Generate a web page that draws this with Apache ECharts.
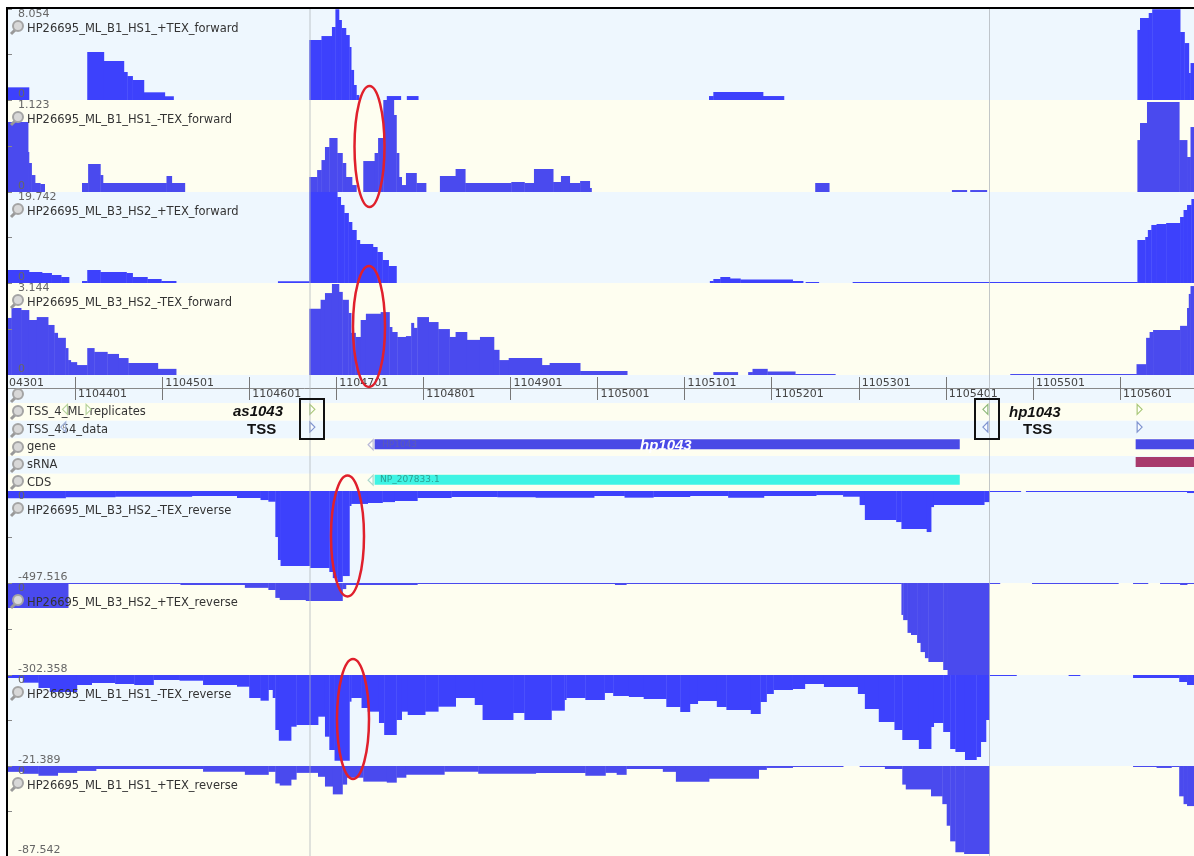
<!DOCTYPE html>
<html>
<head>
<meta charset="utf-8">
<title>hp1043 coverage tracks</title>
<script src="https://cdn.jsdelivr.net/npm/echarts@6/dist/echarts.min.js"></script>
<style>
html,body{margin:0;padding:0;background:#fff;}
#main{width:1194px;height:856px;filter:blur(0.5px);}
</style>
</head>
<body>
<div id="main"></div>
<script>
var xStart = 1104324, xEnd = 1105686;

// coverage tracks, each point is [position, value held until the next point]
var b1PlusFwd = [[1104324,1.12],[1104348,0],[1104415,4.25],[1104434,3.45],[1104457,2.48],[1104461,2.12],[1104467,1.77],[1104480,.68],[1104504,.33],[1104514,0],[1104670,5.31],[1104684,5.66],[1104696,6.46],[1104700,8.03],[1104704,7.08],[1104707,6.37],[1104712,5.75],[1104716,4.69],[1104718,2.66],[1104721,1.33],[1104724,.44],[1104727,0],[1104759,.35],[1104775,0],[1104782,.35],[1104795,0],[1105129,.35],[1105134,.71],[1105191,.35],[1105215,0],[1105621,6.2],[1105624,7.26],[1105634,7.7],[1105638,8.03],[1105670,6.02],[1105675,5.04],[1105680,2.39],[1105682,3.27],[1105686,3.27]];
var b1MinusFwd = [[1104324,.854],[1104347,.488],[1104348,.354],[1104351,.207],[1104355,.11],[1104361,.098],[1104366,0],[1104409,.11],[1104416,.342],[1104430,.207],[1104433,.11],[1104506,.195],[1104512,.11],[1104527,0],[1104670,.183],[1104679,.268],[1104684,.39],[1104688,.549],[1104693,.659],[1104702,.476],[1104708,.354],[1104712,.183],[1104719,.085],[1104724,0],[1104732,.378],[1104745,.476],[1104749,.659],[1104755,1.123],[1104767,.94],[1104770,.476],[1104773,.183],[1104776,.085],[1104781,.232],[1104793,.11],[1104804,0],[1104820,.195],[1104838,.281],[1104849,.11],[1104902,.122],[1104917,.11],[1104928,.281],[1104950,.122],[1104959,.195],[1104969,.11],[1104981,.134],[1104992,.049],[1104994,0],[1105251,.11],[1105267,0],[1105408,.024],[1105425,0],[1105429,.024],[1105448,0],[1105621,.634],[1105624,.842],[1105632,1.098],[1105669,.634],[1105678,.427],[1105682,.793],[1105686,.793]];
var b3PlusFwd = [[1104324,2.82],[1104348,2.39],[1104363,2.17],[1104374,1.74],[1104385,1.3],[1104394,0],[1104409,.43],[1104415,2.82],[1104430,2.39],[1104460,2.17],[1104467,1.3],[1104484,.87],[1104500,.43],[1104517,0],[1104634,.37],[1104670,19.74],[1104702,18.66],[1104706,16.93],[1104710,15.19],[1104715,13.24],[1104719,11.5],[1104724,9.33],[1104728,8.46],[1104743,7.81],[1104748,6.73],[1104754,4.99],[1104761,3.69],[1104770,0],[1105130,.43],[1105134,.87],[1105142,1.3],[1105153,.98],[1105165,.76],[1105225,.43],[1105237,0],[1105240,.22],[1105255,0],[1105294,.22],[1105621,9.33],[1105630,9.98],[1105633,11.5],[1105637,12.59],[1105643,12.8],[1105654,13.02],[1105670,14.32],[1105674,15.84],[1105678,16.93],[1105683,18.23],[1105686,18.23]];
var b3MinusFwd = [[1104324,1.95],[1104328,2.29],[1104339,2.22],[1104348,1.88],[1104357,1.98],[1104370,1.71],[1104377,1.44],[1104381,1.27],[1104390,.92],[1104393,.51],[1104396,.44],[1104403,.34],[1104415,.92],[1104423,.79],[1104438,.72],[1104451,.58],[1104462,.41],[1104496,.21],[1104517,0],[1104670,2.26],[1104683,2.57],[1104688,2.8],[1104696,3.11],[1104704,2.84],[1104708,2.57],[1104715,2.12],[1104718,1.44],[1104723,1.3],[1104729,1.88],[1104735,2.09],[1104752,2.15],[1104762,1.64],[1104765,1.47],[1104771,1.3],[1104781,1.33],[1104787,1.78],[1104790,1.61],[1104794,1.98],[1104807,1.81],[1104818,1.57],[1104831,1.3],[1104838,1.47],[1104851,1.2],[1104866,1.3],[1104882,.86],[1104888,.51],[1104899,.58],[1104937,.34],[1104946,.41],[1104981,.14],[1105035,0],[1105134,.1],[1105162,0],[1105174,.1],[1105179,.21],[1105196,.12],[1105228,.034],[1105274,0],[1105475,.034],[1105620,.37],[1105631,1.27],[1105635,1.47],[1105639,1.54],[1105670,1.68],[1105678,2.29],[1105680,2.77],[1105682,3.04],[1105686,3.04]];
var b3MinusRev = [[1104324,-39.5],[1104390,-34],[1104447,-31],[1104535,-27],[1104587,-38],[1104614,-49],[1104623,-58],[1104631,-249],[1104634,-373],[1104637,-406],[1104671,-417],[1104693,-438],[1104697,-471],[1104702,-492],[1104708,-460],[1104716,-81],[1104718,-70],[1104737,-65],[1104754,-60],[1104768,-54],[1104794,-38],[1104833,-32],[1104886,-34],[1104930,-36],[1104997,-27],[1105032,-36],[1105065,-32],[1105107,-27],[1105151,-36],[1105192,-27],[1105252,-22],[1105283,-31],[1105302,-76],[1105308,-157],[1105344,-168],[1105350,-206],[1105379,-222],[1105384,-87],[1105387,-76],[1105445,-60],[1105451,-5],[1105487,0],[1105493,-5],[1105678,-11],[1105686,-11]];
var b3PlusRev = [[1104324,-82],[1104393,-3.3],[1104522,-6.6],[1104596,-16],[1104623,-23],[1104631,-49],[1104636,-56],[1104666,-59],[1104708,-20],[1104712,-6.6],[1104794,-3.3],[1105021,-6.6],[1105034,-3.3],[1105350,-105],[1105352,-122],[1105357,-164],[1105361,-171],[1105368,-197],[1105372,-227],[1105377,-247],[1105381,-260],[1105398,-286],[1105403,-302],[1105451,-3.3],[1105463,0],[1105500,-3.3],[1105599,0],[1105616,-3.3],[1105633,0],[1105647,-3.3],[1105670,-6.6],[1105678,-3.3],[1105686,-3.3]];
var b1MinusRev = [[1104324,-.7],[1104341,-1.81],[1104359,-3.06],[1104372,-4],[1104403,-2.35],[1104420,-1.88],[1104447,-2.12],[1104469,-2.35],[1104491,-1.18],[1104521,-1.34],[1104548,-2.35],[1104587,-2.75],[1104601,-5.41],[1104614,-6.04],[1104623,-3.53],[1104628,-5.41],[1104631,-12.93],[1104635,-15.44],[1104649,-12.15],[1104655,-11.75],[1104680,-9.8],[1104688,-14.5],[1104693,-17.63],[1104699,-20.14],[1104716,-6.27],[1104718,-5.41],[1104730,-7.76],[1104737,-8.62],[1104750,-11.28],[1104756,-14.1],[1104770,-10.58],[1104776,-8.62],[1104783,-9.4],[1104803,-8.62],[1104818,-7.45],[1104838,-5.41],[1104860,-7.05],[1104869,-10.58],[1104904,-8.93],[1104917,-10.58],[1104948,-8.39],[1104963,-5.88],[1104965,-5.41],[1104987,-5.88],[1105009,-4.23],[1105019,-4.94],[1105037,-5.17],[1105054,-5.64],[1105080,-7.52],[1105096,-8.7],[1105107,-6.82],[1105116,-6.11],[1105138,-7.52],[1105149,-8.23],[1105177,-9.17],[1105188,-6.35],[1105195,-4.47],[1105203,-3.53],[1105225,-3.29],[1105239,-2.12],[1105261,-2.82],[1105300,-4.47],[1105308,-7.99],[1105324,-11.05],[1105342,-12.93],[1105351,-15.28],[1105370,-17.39],[1105384,-12.22],[1105387,-11.28],[1105398,-13.4],[1105406,-17.39],[1105412,-18.1],[1105423,-19.98],[1105436,-19.27],[1105441,-15.75],[1105447,-10.58],[1105451,-.24],[1105482,0],[1105542,-.24],[1105555,0],[1105616,-.7],[1105669,-1.65],[1105678,-2.35],[1105686,-2.35]];
var b1PlusRev = [[1104324,-5.7],[1104341,-7.6],[1104359,-9.5],[1104381,-6.7],[1104403,-4.8],[1104425,-2.9],[1104548,-5.7],[1104596,-8.6],[1104623,-5.7],[1104631,-17],[1104636,-19],[1104649,-13.3],[1104655,-6.7],[1104680,-10.5],[1104688,-20],[1104697,-27.6],[1104708,-18.1],[1104713,-11.4],[1104732,-15.2],[1104759,-16.2],[1104770,-11.4],[1104781,-8.6],[1104825,-5.7],[1104864,-7.6],[1104930,-6.7],[1104987,-9.5],[1105010,-6.7],[1105023,-8.6],[1105034,-2.9],[1105076,-5.7],[1105091,-15.2],[1105129,-12.4],[1105186,-3.8],[1105195,-1.9],[1105225,-1],[1105283,0],[1105302,-1],[1105331,-2.9],[1105351,-18.1],[1105355,-22.8],[1105384,-29.5],[1105397,-37.1],[1105402,-58.1],[1105406,-73.3],[1105412,-83.8],[1105422,-85.7],[1105451,0],[1105616,-1],[1105643,-1.9],[1105660,-1],[1105669,-29.5],[1105674,-37.1],[1105678,-39],[1105686,-39]];

// annotation rows
var rowNames = ['TSS_4_ML_replicates','TSS_454_data','gene','sRNA','CDS'];
var rowColors = ['#fefef0','#eef7fe'];
var featureColors = {gene:'#4a4ae6', sRNA:'#a83a6c', CDS:'#3ff4e4'};
// start, end, row, type
var features = [
  [1104745,1105417,2,'gene'],
  [1105619,1105686,2,'gene'],
  [1105619,1105686,3,'sRNA'],
  [1104745,1105417,4,'CDS']
];
// position, row, direction (1 right, -1 left), colour
var tssMarks = [
  [1104390,0,-1,'#b5d29a'],
  [1104416,0,1,'#b5d29a'],
  [1104673,0,1,'#a9c878'],
  [1105447,0,-1,'#8db87a'],
  [1105623,0,1,'#a9c878'],
  [1104388,1,-1,'#9fb0d8'],
  [1104673,1,1,'#7f93cf'],
  [1105447,1,-1,'#7f93cf'],
  [1105623,1,1,'#7f93cf'],
  [1104741,2,-1,'#b9b9d8'],
  [1104741,4,-1,'#a8d8cc']
];

// ruler
var rulerUpper = [1104501,1104701,1104901,1105101,1105301,1105501];
var rulerLower = [1104401,1104601,1104801,1105001,1105201,1105401,1105601];
var rulerTicks = rulerLower.concat(rulerUpper);

var tracks = [
  {name:'HP26695_ML_B1_HS1_+TEX_forward', data:b1PlusFwd, min:0, max:8.054, top:9, height:91, bg:'#eef7fe', color:'#3d41fc'},
  {name:'HP26695_ML_B1_HS1_-TEX_forward', data:b1MinusFwd, min:0, max:1.123, top:100, height:92, bg:'#fefef0', color:'#4a4aee'},
  {name:'HP26695_ML_B3_HS2_+TEX_forward', data:b3PlusFwd, min:0, max:19.742, top:192, height:91, bg:'#eef7fe', color:'#3d41fc'},
  {name:'HP26695_ML_B3_HS2_-TEX_forward', data:b3MinusFwd, min:0, max:3.144, top:283, height:92, bg:'#fefef0', color:'#4a4aee'},
  {name:'HP26695_ML_B3_HS2_-TEX_reverse', data:b3MinusRev, min:-497.516, max:0, top:491, height:92, bg:'#eef7fe', color:'#3d41fc'},
  {name:'HP26695_ML_B3_HS2_+TEX_reverse', data:b3PlusRev, min:-302.358, max:0, top:583, height:92, bg:'#fefef0', color:'#4a4aee'},
  {name:'HP26695_ML_B1_HS1_-TEX_reverse', data:b1MinusRev, min:-21.389, max:0, top:675, height:91, bg:'#eef7fe', color:'#3d41fc'},
  {name:'HP26695_ML_B1_HS1_+TEX_reverse', data:b1PlusRev, min:-87.542, max:0, top:766, height:92, bg:'#fefef0', color:'#4a4aee'}
];

var labelFont = 'DejaVu Sans';
var grids = [], xAxes = [], yAxes = [], series = [], graphics = [];

function addIcon(x, y) {
  graphics.push({type:'line', z:20, shape:{x1:x-1,y1:y+1,x2:x-6,y2:y+6}, style:{stroke:'#999',lineWidth:3}});
  graphics.push({type:'circle', z:20, shape:{cx:x+1,cy:y-2,r:5}, style:{fill:'#d8d8d8',stroke:'#a4a4a4',lineWidth:2}});
}

function addText(text, x, y, size, color, weight, style, family) {
  graphics.push({type:'text', z:21, x:x, y:y, style:{
    text:text, fill:color, fontSize:size, fontWeight:weight||'normal', fontStyle:style||'normal',
    fontFamily:family||labelFont, verticalAlign:'middle', textAlign:'left'
  }});
}

// one rect per coverage step, from this point to the next one
function coverageStep(t) {
  return function (params, api) {
    var next = t.data[params.dataIndex + 1];
    if (!next || api.value(1) === 0) return null;
    var a = api.coord([api.value(0), api.value(1)]);
    var b = api.coord([next[0], 0]);
    return {type:'rect', shape:{x:a[0], y:Math.min(a[1],b[1]), width:b[0]-a[0]+0.4, height:Math.abs(b[1]-a[1])},
      style:{fill:t.color}};
  };
}

tracks.forEach(function (t, i) {
  grids.push({left:8, width:1186, top:t.top, height:t.height, show:true, backgroundColor:t.bg, borderWidth:0});
  xAxes.push({gridIndex:i, type:'value', min:xStart, max:xEnd, show:false});
  yAxes.push({
    gridIndex:i, type:'value', min:t.min, max:t.max, z:5,
    axisLine:{show:false}, splitLine:{show:false},
    axisTick:{inside:true, length:4, lineStyle:{color:'#888'}, customValues:[(t.min+t.max)/2, t.min < 0 ? t.min : t.max]},
    axisLabel:{
      inside:true, margin:10, color:'#666', fontSize:11, fontFamily:labelFont,
      customValues:[t.min,t.max], verticalAlignMinLabel:'bottom', verticalAlignMaxLabel:'top',
      formatter:function (v) { return String(v); }
    }
  });
  series.push({
    type:'custom', xAxisIndex:i, yAxisIndex:i, data:t.data, silent:true, animation:false,
    encode:{x:0, y:1}, renderItem:coverageStep(t)
  });
  addIcon(17, t.top+19);
  addText(t.name, 27, t.top+20, 11.5, '#333');
});

// ruler band, tick row and label rows
var ri = grids.length;
grids.push({left:8, width:1186, top:375, height:28, show:true, backgroundColor:'#eef7fe', borderWidth:0});
xAxes.push({gridIndex:ri, type:'value', min:xStart, max:xEnd, show:false});
yAxes.push({gridIndex:ri, type:'value', show:false});
grids.push({left:8, width:1186, top:377, height:23, borderWidth:0});
xAxes.push({
  gridIndex:ri+1, type:'value', position:'top', min:xStart, max:xEnd, z:5,
  axisLine:{show:false, onZero:false}, splitLine:{show:false},
  axisTick:{inside:true, length:23, lineStyle:{color:'#777'}, customValues:rulerTicks},
  axisLabel:{inside:true, margin:1, align:'left', padding:[0,0,0,3], color:'#444', fontSize:11, fontFamily:labelFont,
    customValues:rulerUpper, formatter:function (v) { return String(v); }}
});
yAxes.push({gridIndex:ri+1, type:'value', show:false});
grids.push({left:8, width:1186, top:388.5, height:10, borderWidth:0});
xAxes.push({
  gridIndex:ri+2, type:'value', position:'top', min:xStart, max:xEnd, z:5,
  axisLine:{show:true, onZero:false, lineStyle:{color:'#888', width:1}}, splitLine:{show:false}, axisTick:{show:false},
  axisLabel:{inside:true, margin:0, align:'left', padding:[0,0,0,3], color:'#444', fontSize:11, fontFamily:labelFont,
    customValues:rulerLower, formatter:function (v) { return String(v); }}
});
yAxes.push({gridIndex:ri+2, type:'value', show:false});
addIcon(17, 396);
addText('04301', 9, 383, 11, '#444');

// annotation rows
var ai = grids.length;
grids.push({left:8, width:1186, top:403, height:88.5, borderWidth:0});
xAxes.push({gridIndex:ai, type:'value', min:xStart, max:xEnd, show:false});
yAxes.push({
  gridIndex:ai, type:'category', data:rowNames, inverse:true,
  axisLine:{show:false}, axisTick:{show:false}, splitLine:{show:false},
  splitArea:{show:true, areaStyle:{color:rowColors}},
  axisLabel:{inside:true, margin:19, color:'#333', fontSize:11.5, fontFamily:labelFont, padding:[6,0,0,0]}
});
series.push({
  type:'custom', xAxisIndex:ai, yAxisIndex:ai, data:features, silent:true, animation:false,
  encode:{x:[0,1], y:2},
  renderItem:function (params, api) {
    var a = api.coord([api.value(0), api.value(2)]);
    var b = api.coord([api.value(1), api.value(2)]);
    return {type:'rect', shape:{x:a[0], y:a[1]-8, width:b[0]-a[0], height:10},
      style:{fill:featureColors[features[params.dataIndex][3]]}};
  }
});
series.push({
  type:'custom', xAxisIndex:ai, yAxisIndex:ai, data:tssMarks, silent:true, animation:false, z:6,
  encode:{x:0, y:1},
  renderItem:function (params, api) {
    var c = api.coord([api.value(0), api.value(1)]);
    var d = tssMarks[params.dataIndex][2];
    var y = c[1]-2.5;
    return {type:'polygon', shape:{points:[[c[0]+3*d,y],[c[0]-2*d,y-5],[c[0]-2*d,y+5]]},
      style:{fill:'rgba(255,255,255,0.5)', stroke:tssMarks[params.dataIndex][3], lineWidth:1.2}};
  }
});
[413,431,449,466,483].forEach(function (y) { addIcon(17, y); });

// labels on features and callouts
addText('HP1043', 382, 445, 9, '#5c5cb4');
addText('NP_207833.1', 380, 480, 9, '#2b9f92');
addText('hp1043', 640, 446, 15, '#fff', 'bold', 'italic', 'Liberation Sans');
addText('as1043', 233, 412, 15, '#111', 'bold', 'italic', 'Liberation Sans');
addText('TSS', 247, 430, 15, '#111', 'bold', 'normal', 'Liberation Sans');
addText('hp1043', 1009, 413, 15, '#111', 'bold', 'italic', 'Liberation Sans');
addText('TSS', 1023, 430, 15, '#111', 'bold', 'normal', 'Liberation Sans');

// guide lines, frame and hand-drawn marks
[310,989.5].forEach(function (x) {
  graphics.push({type:'line', z:10, shape:{x1:x,y1:9,x2:x,y2:856}, style:{stroke:'rgba(175,180,185,0.75)',lineWidth:1}});
});
graphics.push({type:'line', z:22, shape:{x1:7,y1:8,x2:1194,y2:8}, style:{stroke:'#000',lineWidth:2}});
graphics.push({type:'line', z:22, shape:{x1:7,y1:7,x2:7,y2:856}, style:{stroke:'#000',lineWidth:2}});
[[300,399,24,40],[975,399,24,40]].forEach(function (r) {
  graphics.push({type:'rect', z:22, shape:{x:r[0],y:r[1],width:r[2],height:r[3]}, style:{fill:'none',stroke:'#111',lineWidth:2}});
});
[[369.5,146.5,15,60.5],[369,326.5,16,60.5],[347.5,536,16.5,60.5],[353,719,16,60]].forEach(function (e) {
  graphics.push({type:'ellipse', z:23, shape:{cx:e[0],cy:e[1],rx:e[2],ry:e[3]}, style:{fill:'none',stroke:'#e0202c',lineWidth:2.5}});
});

var chart = echarts.init(document.getElementById('main'));
chart.setOption({
  animation:false,
  grid:grids, xAxis:xAxes, yAxis:yAxes, series:series, graphic:{elements:graphics}
});
</script>
</body>
</html>
